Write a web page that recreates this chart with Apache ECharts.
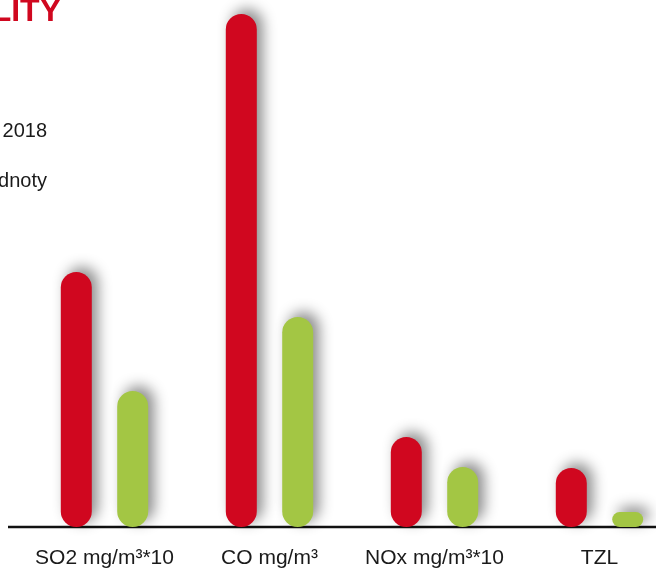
<!DOCTYPE html>
<html>
<head>
<meta charset="utf-8">
<script src="https://cdn.jsdelivr.net/npm/echarts@6/dist/echarts.min.js"></script>
<style>
    html, body {margin: 0; padding: 0; background: #fff;}
    #chart {width: 656px; height: 569px;}
</style>
</head>
<body>
<div id="chart"></div>
<script>
// kategorie a hodnoty
var categories = ['SO2 mg/m³*10', 'CO mg/m³', 'NOx mg/m³*10', 'TZL'];
var values2018 = [25.5, 51.3, 9.0, 5.9];
var valuesLimit = [13.6, 21.0, 6.0, 1.5];

var red = '#d0071f';
var green = '#a3c644';

var barStyle = function (color) {
    return {
        color: color,
        borderRadius: 16,
        shadowBlur: 14,
        shadowColor: 'rgba(0,0,0,0.45)',
        shadowOffsetX: 6,
        shadowOffsetY: -5
    };
};

var chart = echarts.init(document.getElementById('chart'));
chart.setOption({
    animation: false,
    // graf je vpravo oříznutý, proto je mřížka širší než plátno
    grid: {left: 22, width: 660, top: 7, bottom: 42, outerBoundsMode: 'none', containLabel: false},
    xAxis: {
        type: 'category',
        data: categories,
        axisLine: {show: false},
        axisTick: {show: false},
        axisLabel: {
            interval: 0,
            margin: 21,
            color: '#1a1a1a',
            fontSize: 21,
            fontFamily: '"Liberation Sans", Arial, sans-serif'
        }
    },
    yAxis: {
        type: 'value',
        min: 0,
        max: 52,
        show: false
    },
    graphic: [
        {
            type: 'line',
            shape: {x1: 8, y1: 527, x2: 656, y2: 527},
            style: {stroke: '#111', lineWidth: 2.5},
            z: 0
        },
        {
            type: 'text',
            x: 61, y: 12,
            style: {
                text: 'KVALITY',
                fill: red,
                font: 'bold 32px "Liberation Sans", Arial, sans-serif',
                textAlign: 'right',
                textVerticalAlign: 'middle'
            }
        },
        {
            type: 'text',
            x: 47, y: 131,
            style: {
                text: 'rok 2018',
                fill: '#1a1a1a',
                font: '20px "Liberation Sans", Arial, sans-serif',
                textAlign: 'right',
                textVerticalAlign: 'middle'
            }
        },
        {
            type: 'text',
            x: 47, y: 181,
            style: {
                text: 'limitní hodnoty',
                fill: '#1a1a1a',
                font: '20px "Liberation Sans", Arial, sans-serif',
                textAlign: 'right',
                textVerticalAlign: 'middle'
            }
        }
    ],
    series: [
        {
            name: 'rok 2018',
            type: 'bar',
            data: values2018,
            barWidth: 31,
            barGap: '82%',
            itemStyle: barStyle(red)
        },
        {
            name: 'limitní hodnoty',
            type: 'bar',
            data: valuesLimit,
            barWidth: 31,
            itemStyle: barStyle(green)
        }
    ]
});
</script>
</body>
</html>
